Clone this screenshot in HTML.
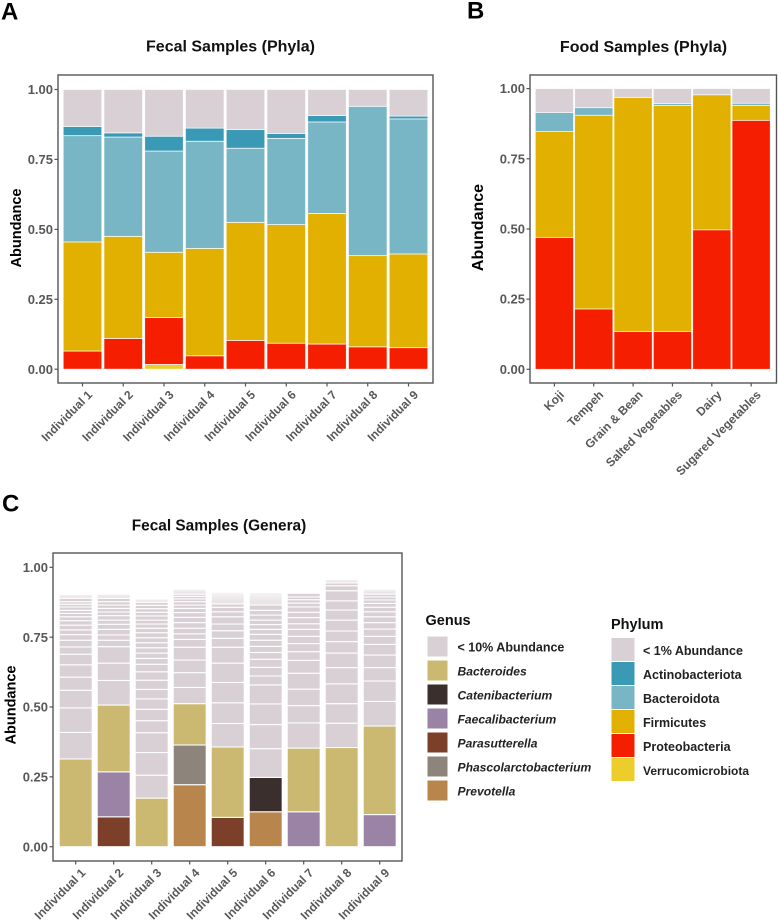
<!DOCTYPE html>
<html lang="en">
<head>
<meta charset="utf-8">
<title>Fecal and Food Sample Abundance</title>
<style>
html,body{margin:0;padding:0;background:#fff;width:778px;height:920px;overflow:hidden}
svg{display:block}
text{font-family:"Liberation Sans",sans-serif}
.panel-letter{font-size:24px;font-weight:bold;fill:#000}
.title{font-size:16px;font-weight:bold;fill:#111;text-anchor:middle}
.ytitle{font-size:14.5px;font-weight:bold;fill:#000;text-anchor:middle}
.tick{font-size:13px;font-weight:bold;fill:#58585a}
.legend-title{font-size:14.5px;font-weight:bold;fill:#111}
.legend-label{font-size:12.5px;font-weight:bold;fill:#222}
.legend-label.it{font-size:12.1px;font-style:italic}
</style>
</head>
<body>
<svg id="figure" xmlns="http://www.w3.org/2000/svg" width="778" height="920" viewBox="0 0 778 920">
  <defs>
    <linearGradient id="tailFade" x1="0" y1="1" x2="0" y2="0">
      <stop offset="0" stop-color="#e6e0e3"/>
      <stop offset="1" stop-color="#f6f4f5"/>
    </linearGradient>
  </defs>
  <text class="panel-letter" x="1" y="19.5">A</text>
  <text class="panel-letter" x="467" y="18.5">B</text>
  <text class="panel-letter" x="2" y="511.5">C</text>

  <g>
    <text class="legend-title" x="425.5" y="625">Genus</text>
    <rect x="427" y="636" width="21" height="21" fill="#d8d0d5" stroke="#fff"/>
    <text class="legend-label" x="457.5" y="651.5">&lt; 10% Abundance</text>
    <rect x="427" y="660" width="21" height="21" fill="#cbb971" stroke="#fff"/>
    <text class="legend-label it" x="457.5" y="675.5">Bacteroides</text>
    <rect x="427" y="684" width="21" height="21" fill="#3b2f2d" stroke="#fff"/>
    <text class="legend-label it" x="457.5" y="699.5">Catenibacterium</text>
    <rect x="427" y="708" width="21" height="21" fill="#9a83a5" stroke="#fff"/>
    <text class="legend-label it" x="457.5" y="723.5">Faecalibacterium</text>
    <rect x="427" y="732" width="21" height="21" fill="#7b3f2a" stroke="#fff"/>
    <text class="legend-label it" x="457.5" y="747.5">Parasutterella</text>
    <rect x="427" y="756" width="21" height="21" fill="#8d857c" stroke="#fff"/>
    <text class="legend-label it" x="457.5" y="771.5">Phascolarctobacterium</text>
    <rect x="427" y="780" width="21" height="21" fill="#b8864c" stroke="#fff"/>
    <text class="legend-label it" x="457.5" y="795.5">Prevotella</text>
  </g>

  <g>
    <text class="legend-title" x="611" y="629">Phylum</text>
    <rect x="611" y="637.5" width="24" height="24" fill="#d8d0d5" stroke="#fff"/>
    <text class="legend-label" x="643" y="655">&lt; 1% Abundance</text>
    <rect x="611" y="661.5" width="24" height="24" fill="#3a9ab5" stroke="#fff"/>
    <text class="legend-label" x="643" y="679">Actinobacteriota</text>
    <rect x="611" y="685.5" width="24" height="24" fill="#78b6c6" stroke="#fff"/>
    <text class="legend-label" x="643" y="703">Bacteroidota</text>
    <rect x="611" y="709.5" width="24" height="24" fill="#e1b000" stroke="#fff"/>
    <text class="legend-label" x="643" y="727">Firmicutes</text>
    <rect x="611" y="733.5" width="24" height="24" fill="#f51f00" stroke="#fff"/>
    <text class="legend-label" x="643" y="751">Proteobacteria</text>
    <rect x="611" y="757.5" width="24" height="24" fill="#eccd2b" stroke="#fff"/>
    <text class="legend-label" x="643" y="775" style="font-size:12px">Verrucomicrobiota</text>
  </g>
</svg>

<script>
// Shared tick labels and categories
var yTickValues = [0, 0.25, 0.5, 0.75, 1];
var yTickLabels = ["0.00", "0.25", "0.50", "0.75", "1.00"];
var individuals = ["Individual 1", "Individual 2", "Individual 3", "Individual 4", "Individual 5", "Individual 6", "Individual 7", "Individual 8", "Individual 9"];
var foods = ["Koji", "Tempeh", "Grain & Bean", "Salted Vegetables", "Dairy", "Sugared Vegetables"];

// Panel A: fecal phyla, stacked bottom to top
var fecalVerrucomicrobiota = [0, 0, 0.017, 0, 0, 0, 0, 0, 0];
var fecalProteobacteria = [0.065, 0.11, 0.168, 0.048, 0.103, 0.093, 0.09, 0.08, 0.077];
var fecalFirmicutes = [0.39, 0.365, 0.233, 0.384, 0.422, 0.424, 0.467, 0.326, 0.335];
var fecalBacteroidota = [0.38, 0.355, 0.362, 0.383, 0.265, 0.308, 0.327, 0.534, 0.483];
var fecalActinobacteriota = [0.033, 0.015, 0.053, 0.047, 0.067, 0.018, 0.023, 0, 0.01];
var fecalLowPhyla = [0.132, 0.155, 0.167, 0.138, 0.143, 0.157, 0.093, 0.06, 0.095];

// Panel B: food phyla, stacked bottom to top
var foodProteobacteria = [0.47, 0.215, 0.135, 0.135, 0.497, 0.887];
var foodFirmicutes = [0.377, 0.69, 0.833, 0.805, 0.481, 0.053];
var foodBacteroidota = [0.068, 0.027, 0, 0.007, 0, 0.008];
var foodLowPhyla = [0.085, 0.068, 0.032, 0.053, 0.022, 0.052];

// Panel C: fecal genera, stacked bottom to top
var genusPrevotella = [0, 0, 0, 0.222, 0, 0.125, 0, 0, 0];
var genusParasutterella = [0, 0.107, 0, 0, 0.105, 0, 0, 0, 0];
var genusFaecalibacterium = [0, 0.161, 0, 0, 0, 0, 0.125, 0, 0.115];
var genusCatenibacterium = [0, 0, 0, 0, 0, 0.123, 0, 0, 0];
var genusPhascolarctobacterium = [0, 0, 0, 0.142, 0, 0, 0, 0, 0];
var genusBacteroides = [0.314, 0.239, 0.174, 0.148, 0.252, 0, 0.228, 0.355, 0.317];

// Individual low-abundance genera above the named genera, one list per individual
var lowGenera1 = [0.095, 0.088, 0.063, 0.047, 0.044, 0.038, 0.026, 0.024, 0.020, 0.017, 0.017, 0.016, 0.014, 0.012, 0.011, 0.012, 0.010, 0.009, 0.012];
var lowGenera2 = [0.088, 0.062, 0.059, 0.023, 0.019, 0.020, 0.018, 0.015, 0.016, 0.013, 0.013, 0.012, 0.012, 0.012];
var lowGenera3 = [0.082, 0.081, 0.071, 0.043, 0.041, 0.037, 0.034, 0.033, 0.030, 0.027, 0.021, 0.019, 0.019, 0.018, 0.018, 0.018, 0.016, 0.015, 0.014, 0.015, 0.013, 0.013, 0.012, 0.011];
var lowGenera4 = [0.058, 0.053, 0.045, 0.046, 0.028, 0.020, 0.020, 0.020, 0.019, 0.017, 0.015, 0.012, 0.012, 0.010, 0.009, 0.008];
var lowGenera5 = [0.084, 0.074, 0.073, 0.069, 0.057, 0.032, 0.027, 0.024, 0.026, 0.018, 0.016, 0.012];
var lowGenera6 = [0.103, 0.086, 0.074, 0.068, 0.032, 0.031, 0.029, 0.024, 0.022, 0.022, 0.021, 0.018, 0.017, 0.016, 0.018, 0.017, 0.019];
var lowGenera7 = [0.090, 0.062, 0.059, 0.057, 0.046, 0.031, 0.029, 0.026, 0.025, 0.020, 0.022, 0.019, 0.019, 0.014, 0.012, 0.010, 0.013];
var lowGenera8 = [0.087, 0.070, 0.071, 0.058, 0.052, 0.041, 0.038, 0.039, 0.036, 0.033, 0.036, 0.018, 0.010];
var lowGenera9 = [0.088, 0.073, 0.048, 0.045, 0.038, 0.029, 0.026, 0.023, 0.021, 0.018, 0.016, 0.014, 0.012, 0.011, 0.010];
// Combined abundance of the very rare genera forming the faded cap of each bar
var rareGeneraTail = [0.014, 0.016, 0.012, 0.018, 0.042, 0.045, 0, 0.013, 0.018];

var lowGeneraByIndividual = [lowGenera1, lowGenera2, lowGenera3, lowGenera4, lowGenera5, lowGenera6, lowGenera7, lowGenera8, lowGenera9];

var NS = "http://www.w3.org/2000/svg";
var figure = document.getElementById("figure");

function make(tag, attrs, parent) {
  var el = document.createElementNS(NS, tag);
  for (var k in attrs) { el.setAttribute(k, attrs[k]); }
  parent.appendChild(el);
  return el;
}

function drawAxes(p, group) {
  var frame = make("rect", {x: p.left, y: p.top, width: p.right - p.left, height: p.bottom - p.top, fill: "none", stroke: "#555", "stroke-width": 1.4}, group);
  
  

  yTickValues.forEach(function (v, i) {
    var y = p.yScale(v);
    var tick = make("line", {x1: p.left - 3.5, x2: p.left, y1: y, y2: y, stroke: "#555", "stroke-width": 1.2}, group);
    
    
    var label = make("text", {x: p.left - 5, y: y + 4.6, "text-anchor": "end", "class": "tick"}, group);
    label.textContent = yTickLabels[i];
    
    
  });

  p.categories.forEach(function (c, i) {
    var x = p.xCenter(i);
    var tick = make("line", {x1: x, x2: x, y1: p.bottom, y2: p.bottom + 3.5, stroke: "#555", "stroke-width": 1.2}, group);
    
    
    var lx = x + 10.5, ly = p.bottom + 12.5;
    var label = make("text", {x: lx, y: ly, "text-anchor": "end", "class": "tick", style: "font-size:12px", transform: "rotate(-45 " + lx + " " + ly + ")"}, group);
    label.textContent = c;
    
    
  });

  var title = make("text", {x: p.titleX, y: p.titleY, "class": "title", style: p.titleSize ? "font-size:" + p.titleSize + "px" : ""}, group);
  title.textContent = p.title;
  
  

  var yt = make("text", {x: 0, y: 0, "class": "ytitle", style: p.yTitleSize ? "font-size:" + p.yTitleSize + "px" : "", transform: "translate(" + p.yTitleX + " " + p.yTitleY + ") rotate(-90)"}, group);
  yt.textContent = "Abundance";
  
  
}

function drawSegment(p, group, i, base, value, fill, name) {
  if (value <= 0) { return base; }
  var y0 = p.yScale(base), y1 = p.yScale(base + value);
  var seg = make("rect", {x: p.xCenter(i) - p.barWidth / 2, y: y1, width: p.barWidth, height: y0 - y1, fill: fill, stroke: "#fff", "stroke-opacity": p.segOpacity, "stroke-width": p.segStroke}, group);
  
  
  return base + value;
}

function makePanel(cfg) {
  cfg.yScale = function (v) { return cfg.y0 - v * (cfg.y0 - cfg.y1); };
  cfg.xCenter = function (i) { return cfg.firstX + i * cfg.step; };
  return cfg;
}

function panelGroup(id) {
  var g = make("g", {}, figure);
  
  
  return g;
}

// Panel A
var panelA = makePanel({id: "fecal-phyla", title: "Fecal Samples (Phyla)", left: 58, right: 433, top: 75, bottom: 383, y0: 369.2, y1: 89.5, firstX: 82.5, step: 40.75, barWidth: 38.6, segStroke: 0.8, segOpacity: 0.85, categories: individuals, titleX: 230.5, titleY: 51.5, yTitleX: 21, yTitleY: 228});
var groupA = panelGroup("fecal-phyla-chart");
var seriesA = [
  [fecalVerrucomicrobiota, "#eccd2b", "verrucomicrobiota"],
  [fecalProteobacteria, "#f51f00", "proteobacteria"],
  [fecalFirmicutes, "#e1b000", "firmicutes"],
  [fecalBacteroidota, "#78b6c6", "bacteroidota"],
  [fecalActinobacteriota, "#3a9ab5", "actinobacteriota"],
  [fecalLowPhyla, "#d8d0d5", "low-abundance-phyla"]
];
individuals.forEach(function (c, i) {
  var base = 0;
  seriesA.forEach(function (s) { base = drawSegment(panelA, groupA, i, base, s[0][i], s[1], s[2]); });
});
drawAxes(panelA, groupA);

// Panel B
var panelB = makePanel({id: "food-phyla", title: "Food Samples (Phyla)", left: 530, right: 776.5, top: 75, bottom: 383, y0: 369.3, y1: 88.6, firstX: 554.4, step: 39.35, barWidth: 38.2, segStroke: 0.8, segOpacity: 0.75, categories: foods, titleX: 643.5, titleY: 52, yTitleX: 483, yTitleY: 227.5, yTitleSize: 16});
var groupB = panelGroup("food-phyla-chart");
var seriesB = [
  [foodProteobacteria, "#f51f00", "proteobacteria"],
  [foodFirmicutes, "#e1b000", "firmicutes"],
  [foodBacteroidota, "#78b6c6", "bacteroidota"],
  [foodLowPhyla, "#d8d0d5", "low-abundance-phyla"]
];
foods.forEach(function (c, i) {
  var base = 0;
  seriesB.forEach(function (s) { base = drawSegment(panelB, groupB, i, base, s[0][i], s[1], s[2]); });
});
drawAxes(panelB, groupB);

// Panel C
var panelC = makePanel({id: "fecal-genera", title: "Fecal Samples (Genera)", left: 53, right: 402, top: 553, bottom: 861, y0: 846.7, y1: 567.3, firstX: 75.7, step: 38, barWidth: 33, segStroke: 1.05, segOpacity: 1, categories: individuals, titleX: 219, titleY: 530.5, titleSize: 15.4, yTitleX: 15.7, yTitleY: 705});
var groupC = panelGroup("fecal-genera-chart");
var seriesC = [
  [genusPrevotella, "#b8864c", "prevotella"],
  [genusParasutterella, "#7b3f2a", "parasutterella"],
  [genusFaecalibacterium, "#9a83a5", "faecalibacterium"],
  [genusCatenibacterium, "#3b2f2d", "catenibacterium"],
  [genusPhascolarctobacterium, "#8d857c", "phascolarctobacterium"],
  [genusBacteroides, "#cbb971", "bacteroides"]
];
individuals.forEach(function (c, i) {
  var base = 0;
  seriesC.forEach(function (s) { base = drawSegment(panelC, groupC, i, base, s[0][i], s[1], s[2]); });
  lowGeneraByIndividual[i].forEach(function (v) {
    base = drawSegment(panelC, groupC, i, base, v, "#d8d0d5", "low-abundance-genus");
  });
  drawSegment(panelC, groupC, i, base, rareGeneraTail[i], "url(#tailFade)", "rare-genera-cap");
});
drawAxes(panelC, groupC);
</script>
</body>
</html>
